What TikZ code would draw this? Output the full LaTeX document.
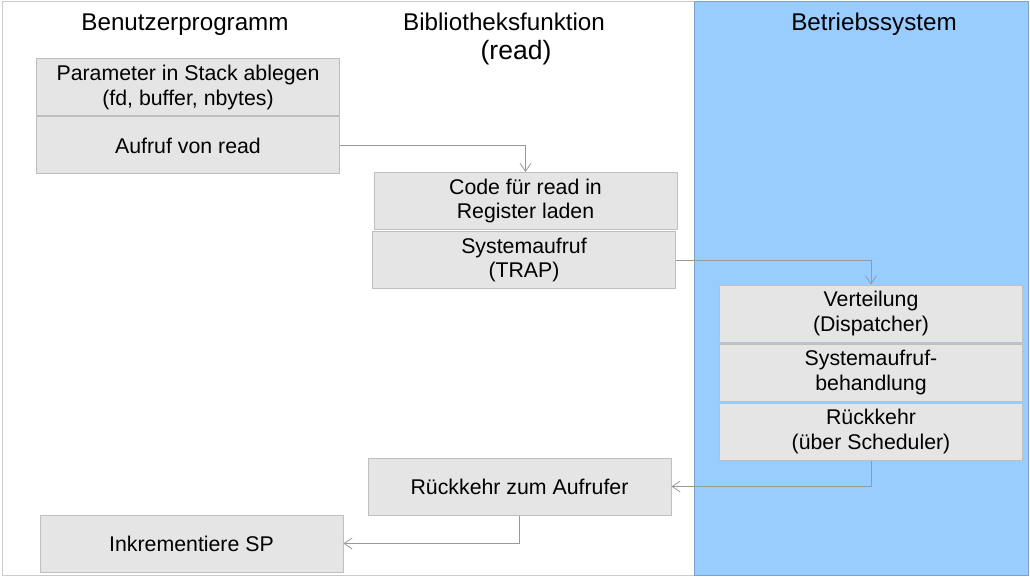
\documentclass[tikz,border=0pt]{standalone}
\usepackage{fontspec}
\setmainfont{Liberation Sans}
\usetikzlibrary{positioning,arrows.meta}
\definecolor{osblue}{HTML}{99CCFF}

\begin{document}
\begin{tikzpicture}[x=1pt, y=-1pt, node distance=1pt,
    blk/.style={draw=gray!50, fill=gray!20, line width=1pt, align=center, minimum width=303pt, minimum height=57pt, inner sep=0pt, font=\fontsize{21.3}{24.5}\selectfont},
    head/.style={anchor=base, align=center, font=\fontsize{24.2}{28}\selectfont},
    flow/.style={draw=gray!80, line width=0.8pt, -{Straight Barb[length=8pt,width=11pt]}}]
    % frame and OS lane
    \useasboundingbox (0,0) rectangle (1030,577);
    \fill[white] (0,0) rectangle (1030,577);
    \draw[gray!40, line width=1pt] (2,2) rectangle (1028,575);
    \filldraw[fill=osblue, draw=osblue!80!black, line width=1pt] (694,2) rectangle (1028,575);

    \node[head] (huser) at (185,31) {Benutzerprogramm};
    \node[head] (hlib) at (504,31) {Bibliotheksfunktion};
    \node[head, font=\fontsize{26.5}{30}\selectfont] (hread) at (516,60) {(read)};
    \node[head] (hos) at (874,31) {Betriebssystem};

    \node[blk] (par) at (188,87.5) {Parameter in Stack ablegen\\(fd, buffer, nbytes)};
    \node[blk, below=0pt of par] (call) {Aufruf von read};
    \node[blk] (code) at (525.5,201) {Code für read in\\Register laden};
    \node[blk, below=of code, xshift=-1.5pt] (trap) {Systemaufruf\\(TRAP)};
    \node[blk] (disp) at (871,313.5) {Verteilung\\(Dispatcher)};
    \node[blk, below=of disp] (hdl) {Systemaufruf-\\behandlung};
    \node[blk, below=of hdl] (ret) {Rückkehr\\(über Scheduler)};
    \node[blk] (back) at (519.5,486.5) {Rückkehr zum Aufrufer};
    \node[blk] (incr) at (191.5,543.5) {Inkrementiere SP};

    \draw[flow] (call.east) -| (code.north);
    \draw[flow] (trap.east) -| (disp.north);
    \draw[flow] (ret.south) |- (back.east);
    \draw[flow] (back.south) |- (incr.east);
\end{tikzpicture}
\end{document}
